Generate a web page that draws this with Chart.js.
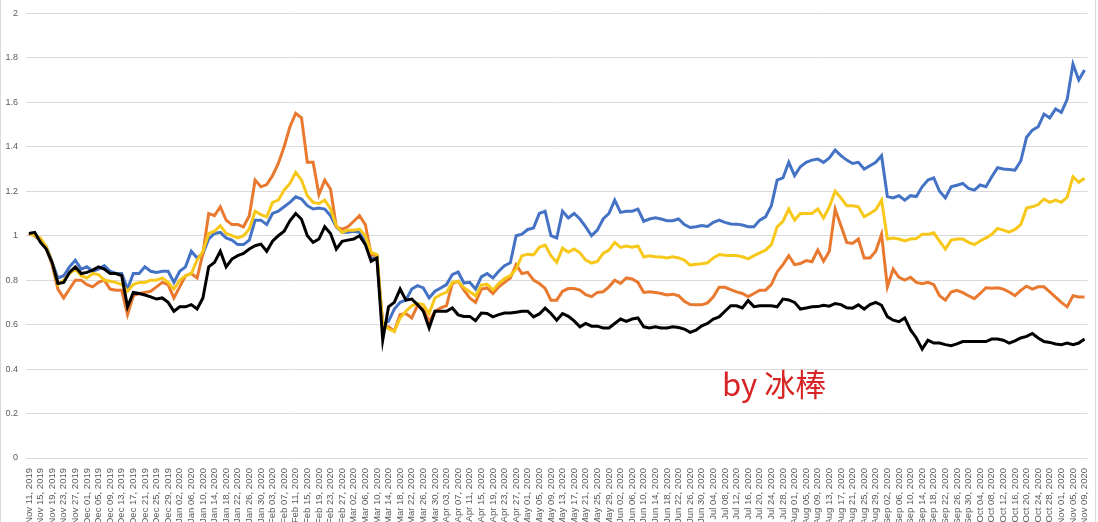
<!DOCTYPE html>
<html>
<head>
<meta charset="utf-8">
<script src="https://cdn.jsdelivr.net/npm/chart.js@4.4.0/dist/chart.umd.min.js"></script>
<style>
  html, body { margin: 0; padding: 0; background: #fff; }
  #wrap { position: relative; width: 1098px; height: 522px; overflow: hidden; }
  #frame { position: absolute; left: 0; top: -2px; width: 1094px; height: 530px;
           border-left: 1px solid #d9d9d9; border-right: 1px solid #d9d9d9; pointer-events: none; }
  #sig { position: absolute; left: 722px; top: 367px; font-family: "Noto Sans CJK SC", "Noto Sans", sans-serif;
         font-size: 31px; line-height: 31px; color: #d82424; white-space: nowrap; }
</style>
</head>
<body>
<div id="wrap">
  <canvas id="c" width="1098" height="522"></canvas>
  <div id="frame"></div>
  <div id="sig">by 冰棒</div>
</div>
<script>
// Categories: every 2 days from Nov 11, 2019 to Nov 09, 2020 (tick label every 4 days)
const startDate = new Date(2019, 10, 11);
const stepDays = 2;
const pointCount = 183;
const monthNames = ["Jan","Feb","Mar","Apr","May","Jun","Jul","Aug","Sep","Oct","Nov","Dec"];
const categories = [];
for (let i = 0; i < pointCount; i++) {
  const d = new Date(startDate.getFullYear(), startDate.getMonth(), startDate.getDate() + i * stepDays);
  categories.push(monthNames[d.getMonth()] + " " + String(d.getDate()).padStart(2, "0") + ", " + d.getFullYear());
}

const blueSeries = [
1.01,1.00,0.98,0.95,0.88,0.81,0.82,0.86,0.89,0.85,0.86,0.84,0.85,0.865,0.84,0.83,0.83,0.76,0.83,0.83,0.86,0.84,0.835,0.84,0.84,0.79,0.84,0.86,0.93,0.90,0.92,0.985,1.01,1.015,0.99,0.98,0.96,
0.96,0.98,1.07,1.07,1.05,1.10,1.11,1.13,1.15,1.175,1.165,1.135,1.12,1.125,1.12,1.09,1.04,1.015,1.015,1.02,1.015,0.97,0.90,0.895,0.60,0.615,0.67,0.70,0.71,0.76,0.775,0.765,0.72,0.75,0.765,0.78,
0.825,0.837,0.787,0.79,0.76,0.815,0.83,0.81,0.84,0.865,0.878,1.0,1.007,1.028,1.035,1.10,1.11,1.0,0.99,1.11,1.08,1.10,1.075,1.04,1.0,1.025,1.075,1.10,1.16,1.105,1.11,1.11,1.12,1.065,1.075,1.081,1.075,
1.067,1.067,1.075,1.05,1.037,1.04,1.046,1.042,1.06,1.07,1.06,1.053,1.052,1.048,1.04,1.04,1.07,1.085,1.135,1.25,1.26,1.33,1.27,1.31,1.33,1.34,1.345,1.33,1.35,1.385,1.36,1.34,1.325,1.33,1.30,1.315,
1.33,1.36,1.176,1.17,1.18,1.16,1.18,1.176,1.22,1.25,1.26,1.20,1.17,1.22,1.227,1.235,1.213,1.205,1.228,1.22,1.265,1.306,1.30,1.298,1.295,1.336,1.443,1.475,1.49,1.547,1.53,1.57,1.555,1.613,1.772,1.70,1.745
];

const orangeSeries = [
1.01,1.0,0.98,0.94,0.87,0.76,0.72,0.76,0.80,0.80,0.78,0.77,0.79,0.80,0.76,0.755,0.755,0.645,0.73,0.74,0.745,0.75,0.77,0.79,0.78,0.72,0.77,0.82,0.83,0.81,0.92,1.10,1.09,1.13,1.07,1.05,1.05,
1.04,1.09,1.25,1.22,1.23,1.27,1.325,1.40,1.49,1.55,1.53,1.33,1.33,1.185,1.25,1.21,1.04,1.03,1.04,1.065,1.09,1.05,0.915,0.91,0.59,0.59,0.57,0.645,0.65,0.63,0.685,0.67,0.615,0.66,0.675,0.685,
0.785,0.795,0.755,0.72,0.70,0.76,0.765,0.74,0.77,0.79,0.81,0.87,0.83,0.835,0.80,0.785,0.763,0.71,0.71,0.75,0.762,0.762,0.755,0.735,0.726,0.745,0.748,0.77,0.80,0.785,0.81,0.805,0.79,0.745,0.748,0.745,0.74,
0.733,0.737,0.73,0.705,0.69,0.689,0.689,0.698,0.725,0.768,0.768,0.757,0.747,0.74,0.726,0.74,0.755,0.755,0.78,0.837,0.87,0.91,0.87,0.875,0.888,0.883,0.935,0.885,0.93,1.12,1.045,0.97,0.965,0.985,0.90,0.90,
0.93,1.006,0.77,0.85,0.813,0.80,0.813,0.79,0.784,0.79,0.78,0.73,0.71,0.747,0.754,0.744,0.73,0.717,0.74,0.766,0.764,0.766,0.76,0.747,0.73,0.754,0.773,0.76,0.77,0.77,0.747,0.724,0.70,0.68,0.73,0.724,0.724
];

const yellowSeries = [
1.01,1.0,0.99,0.95,0.88,0.78,0.80,0.83,0.85,0.82,0.81,0.83,0.825,0.80,0.795,0.79,0.78,0.75,0.78,0.79,0.79,0.80,0.80,0.81,0.79,0.76,0.80,0.82,0.83,0.89,0.93,1.01,1.02,1.045,1.01,1.0,0.99,
1.0,1.03,1.11,1.095,1.085,1.15,1.16,1.205,1.235,1.285,1.25,1.18,1.15,1.145,1.16,1.12,1.045,1.015,1.025,1.025,1.03,1.0,0.925,0.915,0.605,0.58,0.57,0.63,0.66,0.685,0.695,0.69,0.65,0.72,0.735,0.745,
0.79,0.795,0.766,0.748,0.73,0.778,0.782,0.756,0.785,0.807,0.82,0.85,0.91,0.917,0.914,0.948,0.958,0.91,0.88,0.944,0.926,0.94,0.923,0.89,0.877,0.884,0.92,0.935,0.97,0.947,0.953,0.948,0.954,0.904,0.91,0.905,0.904,
0.90,0.905,0.90,0.89,0.868,0.872,0.874,0.878,0.90,0.915,0.912,0.911,0.911,0.905,0.896,0.91,0.923,0.935,0.96,1.04,1.065,1.12,1.07,1.10,1.10,1.10,1.12,1.08,1.13,1.20,1.17,1.135,1.135,1.13,1.085,1.10,
1.117,1.16,0.985,0.99,0.985,0.976,0.985,0.987,1.006,1.006,1.013,0.976,0.94,0.98,0.985,0.985,0.97,0.96,0.976,0.99,1.006,1.033,1.025,1.016,1.028,1.05,1.124,1.13,1.14,1.165,1.15,1.16,1.15,1.173,1.265,1.24,1.258
];

const blackSeries = [
1.01,1.015,0.97,0.94,0.88,0.785,0.79,0.835,0.86,0.83,0.835,0.845,0.86,0.85,0.83,0.83,0.82,0.68,0.745,0.74,0.733,0.725,0.715,0.72,0.70,0.66,0.68,0.68,0.69,0.67,0.72,0.86,0.88,0.93,0.86,0.895,0.91,
0.92,0.94,0.955,0.962,0.93,0.975,1.0,1.02,1.067,1.10,1.074,1.0,0.97,0.985,1.04,1.01,0.94,0.975,0.98,0.985,1.0,0.96,0.885,0.90,0.53,0.68,0.70,0.76,0.71,0.715,0.69,0.66,0.585,0.66,0.66,0.66,
0.675,0.644,0.637,0.637,0.618,0.652,0.65,0.635,0.645,0.652,0.652,0.656,0.66,0.66,0.635,0.648,0.674,0.65,0.62,0.65,0.637,0.617,0.59,0.605,0.593,0.593,0.585,0.585,0.605,0.625,0.615,0.625,0.63,0.59,0.585,0.59,0.585,
0.585,0.59,0.587,0.58,0.565,0.575,0.595,0.605,0.625,0.635,0.66,0.685,0.685,0.675,0.708,0.681,0.685,0.685,0.685,0.68,0.715,0.711,0.70,0.67,0.675,0.68,0.681,0.687,0.683,0.695,0.69,0.676,0.674,0.689,0.67,0.69,
0.70,0.687,0.636,0.62,0.613,0.63,0.576,0.54,0.49,0.53,0.517,0.517,0.51,0.505,0.513,0.524,0.524,0.524,0.524,0.524,0.535,0.535,0.53,0.517,0.527,0.54,0.547,0.56,0.54,0.524,0.52,0.513,0.51,0.517,0.51,0.517,0.535
];

const yTickValues = { min: 0, max: 2, step: 0.2 };

const lineStyle = { borderWidth: 3, pointRadius: 0, tension: 0, fill: false };

new Chart(document.getElementById("c"), {
  type: "line",
  data: {
    labels: categories,
    datasets: [
      Object.assign({ label: "black", data: blackSeries, borderColor: "#000000", order: 0 }, lineStyle),
      Object.assign({ label: "yellow", data: yellowSeries, borderColor: "#F7C81A", order: 1 }, lineStyle),
      Object.assign({ label: "orange", data: orangeSeries, borderColor: "#E8792F", order: 2 }, lineStyle),
      Object.assign({ label: "blue", data: blueSeries, borderColor: "#4472C4", order: 3 }, lineStyle)
    ]
  },
  options: {
    responsive: false,
    animation: false,
    layout: { padding: { left: 0, right: 10, top: 8, bottom: 0 } },
    plugins: { legend: { display: false }, tooltip: { enabled: false } },
    scales: {
      x: {
        type: "category",
        offset: true,
        grid: { display: false },
        border: { display: false },
        ticks: {
          autoSkip: false,
          maxRotation: 90,
          minRotation: 90,
          padding: 2,
          color: "#595959",
          font: { family: "'Liberation Sans', Arial, sans-serif", size: 9.5 },
          callback: function (value, index) { return index % 2 === 0 ? categories[index] : ""; }
        },
        afterFit: function (scale) { scale.height = 64; }
      },
      y: {
        min: yTickValues.min,
        max: yTickValues.max,
        grid: { color: "#d9d9d9", lineWidth: 1, drawTicks: false },
        border: { display: false },
        ticks: {
          stepSize: yTickValues.step,
          padding: 8,
          color: "#595959",
          font: { family: "'Liberation Sans', Arial, sans-serif", size: 9 },
          callback: function (v) { return String(Math.round(v * 10) / 10); }
        },
        afterFit: function (scale) { scale.width = 26; }
      }
    }
  }
});
</script>
</body>
</html>
